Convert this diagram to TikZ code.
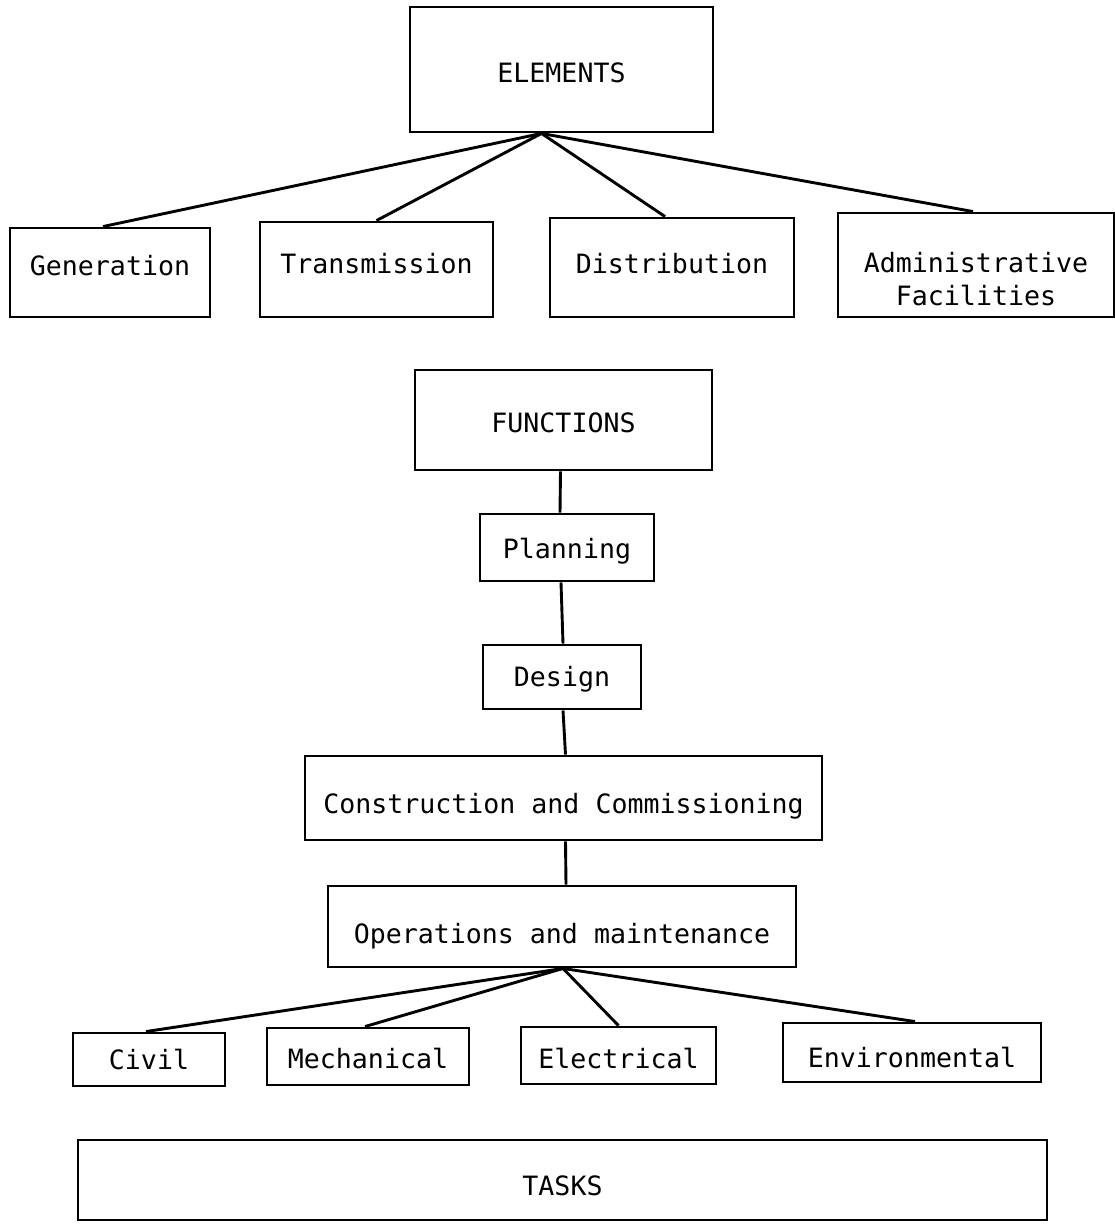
\documentclass[tikz,border=0pt]{standalone}
\usepackage{fontspec}
\newfontfamily\tw{DejaVu Sans Mono}
\usetikzlibrary{calc}
\begin{document}
\begin{tikzpicture}[x=1pt,y=-1pt,
  box/.style={draw=black, line width=2.9pt, rectangle, inner sep=0pt, align=center,
    font=\tw\fontsize{26.6}{33}\selectfont, text depth=0pt, text height=19.4pt},
  dn/.style={text height={19.4pt+2*#1pt}},
  link/.style={draw=black, line width=2.9pt}]
\useasboundingbox (0,0) rectangle (1115,1224);
% top level
\node[box, dn=3.5, minimum width=303, minimum height=125] (elements) at (561.5,69.5) {ELEMENTS};
\node[box, dn=-7, minimum width=200, minimum height=89] (gen) at (110,272.5) {Generation};
\node[box, dn=-6, minimum width=233, minimum height=95] (trans) at (376.5,269.5) {Transmission};
\node[box, dn=-4, minimum width=244, minimum height=99] (dist) at (672,267.5) {Distribution};
\node[box, minimum width=276, minimum height=104] (admin) at (976,265) {};
\node[font=\tw\fontsize{26.6}{33}\selectfont, align=center, inner sep=0pt] (admintext) at (976,279) {Administrative\\Facilities};
\coordinate (ehub) at ($(elements.south)+(-20,0)$);
\draw[link] (ehub) -- ($(gen.north)+(-7,0)$);
\draw[link] (ehub) -- (trans.north);
\draw[link] (ehub) -- ($(dist.north)+(-7,0)$);
\draw[link] (ehub) -- ($(admin.north)+(-3,0)$);
% functions
\node[box, dn=3, minimum width=297, minimum height=100] (functions) at (563.5,420) {FUNCTIONS};
\node[box, dn=1, minimum width=174, minimum height=67] (planning) at (567,547.5) {Planning};
\node[box, dn=0, minimum width=158, minimum height=64] (design) at (562,677) {Design};
\node[box, dn=6, minimum width=517, minimum height=84] (constr) at (563.5,798) {Construction and Commissioning};
\node[box, dn=7, minimum width=468, minimum height=81] (ops) at (562,926.5) {Operations and maintenance};
\draw[link] ($(functions.south)+(-3,0)$) -- ($(planning.north)+(-7,0)$);
\draw[link] ($(planning.south)+(-6,0)$) -- ($(design.north)+(1,0)$);
\draw[link] ($(design.south)+(1,0)$) -- ($(constr.north)+(2,0)$);
\draw[link] ($(constr.south)+(2,0)$) -- ($(ops.north)+(4,0)$);
% disciplines
\node[box, dn=0, minimum width=152, minimum height=53] (civil) at (149,1059.5) {Civil};
\node[box, dn=2, minimum width=202, minimum height=57] (mech) at (368,1056.5) {Mechanical};
\node[box, dn=3, minimum width=195, minimum height=57] (elec) at (618.5,1055.5) {Electrical};
\node[box, dn=5, minimum width=258, minimum height=59] (env) at (912,1052.5) {Environmental};
\coordinate (ohub) at ($(ops.south)+(1,0)$);
\draw[link] (ohub) -- ($(civil.north)+(-3,0)$);
\draw[link] (ohub) -- ($(mech.north)+(-3,0)$);
\draw[link] (ohub) -- (elec.north);
\draw[link] (ohub) -- ($(env.north)+(3,0)$);
% tasks
\node[box, dn=6, minimum width=969, minimum height=80] (tasks) at (562.5,1180) {TASKS};
\end{tikzpicture}
\end{document}
